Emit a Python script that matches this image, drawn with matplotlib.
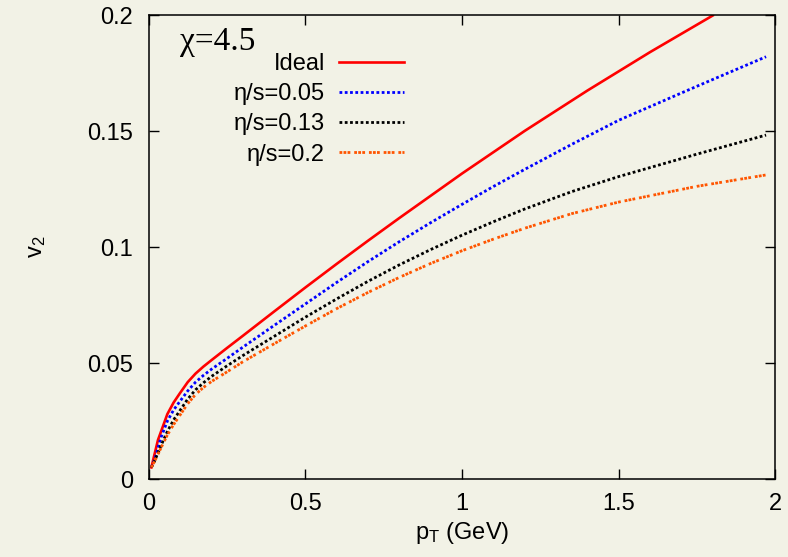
import matplotlib.pyplot as plt
import numpy as np

# p_T (GeV) and v2
pt_ideal = [0.009, 0.03, 0.06, 0.08, 0.1, 0.125, 0.15, 0.175, 0.2, 0.25, 0.3, 0.4, 0.5, 0.6, 0.7, 0.8,
            1.0, 1.2, 1.4, 1.6, 1.8]
v2_ideal = [0.005, 0.0168, 0.028, 0.033, 0.037, 0.0418, 0.0455, 0.0485, 0.0512, 0.0565, 0.0617, 0.0722,
            0.0826, 0.0928, 0.1028, 0.1126, 0.1318, 0.1502, 0.1676, 0.1842, 0.200]

pt_visc = [0.009, 0.02, 0.04, 0.06, 0.08, 0.1, 0.125, 0.15, 0.175, 0.2, 0.25, 0.3, 0.4, 0.5, 0.6, 0.7,
           0.8, 0.9, 1.0, 1.1, 1.2, 1.35, 1.5, 1.75, 1.97]
v2_005 = [0.005, 0.0085, 0.018, 0.025, 0.0298, 0.0335, 0.0380, 0.0418, 0.0447, 0.0473, 0.0520, 0.0568,
          0.0662, 0.0755, 0.0848, 0.0938, 0.1024, 0.1106, 0.1185, 0.1262, 0.1336, 0.1444, 0.1548,
          0.1695, 0.1822]
v2_013 = [0.005, 0.008, 0.0145, 0.0205, 0.0255, 0.0295, 0.0345, 0.0385, 0.0415, 0.0442, 0.0488, 0.0532,
          0.0615, 0.0698, 0.0777, 0.0853, 0.0924, 0.0990, 0.1052, 0.1110, 0.1165, 0.1240, 0.1305,
          0.1402, 0.1484]
v2_02 = [0.005, 0.0078, 0.0135, 0.019, 0.0235, 0.0275, 0.0325, 0.0365, 0.0395, 0.0420, 0.0462, 0.0505,
         0.0583, 0.0660, 0.0735, 0.0805, 0.0870, 0.0930, 0.0985, 0.1035, 0.1082, 0.1145, 0.1195,
         0.1263, 0.1312]

labels = ['Ideal', 'η/s=0.05', 'η/s=0.13', 'η/s=0.2']

bg = '#f2f2e6'
plt.rcParams['font.family'] = ['Liberation Sans', 'DejaVu Sans']
plt.rcParams['mathtext.fontset'] = 'custom'
plt.rcParams['mathtext.rm'] = 'Liberation Sans'
plt.rcParams['mathtext.it'] = 'Liberation Sans:italic'

fig = plt.figure(figsize=(7.88, 5.57), dpi=100, facecolor=bg)
ax = fig.add_axes([0.1885, 0.140, 0.7956, 0.8322], facecolor=bg)

ax.plot(pt_ideal, v2_ideal, color='#ff0000', lw=1.9, label=labels[0])
ax.plot(pt_visc, v2_005, color='#0000ff', lw=2.0, linestyle=(0, (1, 0.9)), label=labels[1])
ax.plot(pt_visc, v2_013, color='black', lw=2.0, linestyle=(0, (1, 0.9)), label=labels[2])
ax.plot(pt_visc, v2_02, color='#ff5500', lw=2.0, linestyle=(0, (1, 0.45, 1, 0.45, 1, 1.4)), label=labels[3])

ax.set_xlim(0, 2)
ax.set_ylim(0, 0.2)
ax.set_xticks([0, 0.5, 1, 1.5, 2])
ax.set_xticklabels(['0', '0.5', '1', '1.5', '2'])
ax.set_yticks([0, 0.05, 0.1, 0.15, 0.2])
ax.set_yticklabels(['0', '0.05', '0.1', '0.15', '0.2'])
ax.tick_params(direction='in', length=7, width=1, top=True, right=True, labelsize=17)
ax.tick_params(axis='x', pad=10)
ax.tick_params(axis='y', pad=11)
for s in ax.spines.values():
    s.set_linewidth(1.1)

ax.set_xlabel(r'p$_{\rm T}$ (GeV)', fontsize=17, labelpad=4)
ax.set_ylabel(r'v$_2$', fontsize=17, labelpad=28)

ax.text(0.05, 0.926, 'χ=4.5', transform=ax.transAxes, fontsize=24,
        family=['Liberation Serif', 'DejaVu Serif'], va='baseline', ha='left')

leg = ax.legend(loc='upper left', bbox_to_anchor=(0.117, 0.945), frameon=False,
                markerfirst=False, fontsize=17, handlelength=2.75,
                handletextpad=0.6, labelspacing=0.35, borderpad=0)

fig.savefig('out.png', dpi=100, facecolor=bg)
